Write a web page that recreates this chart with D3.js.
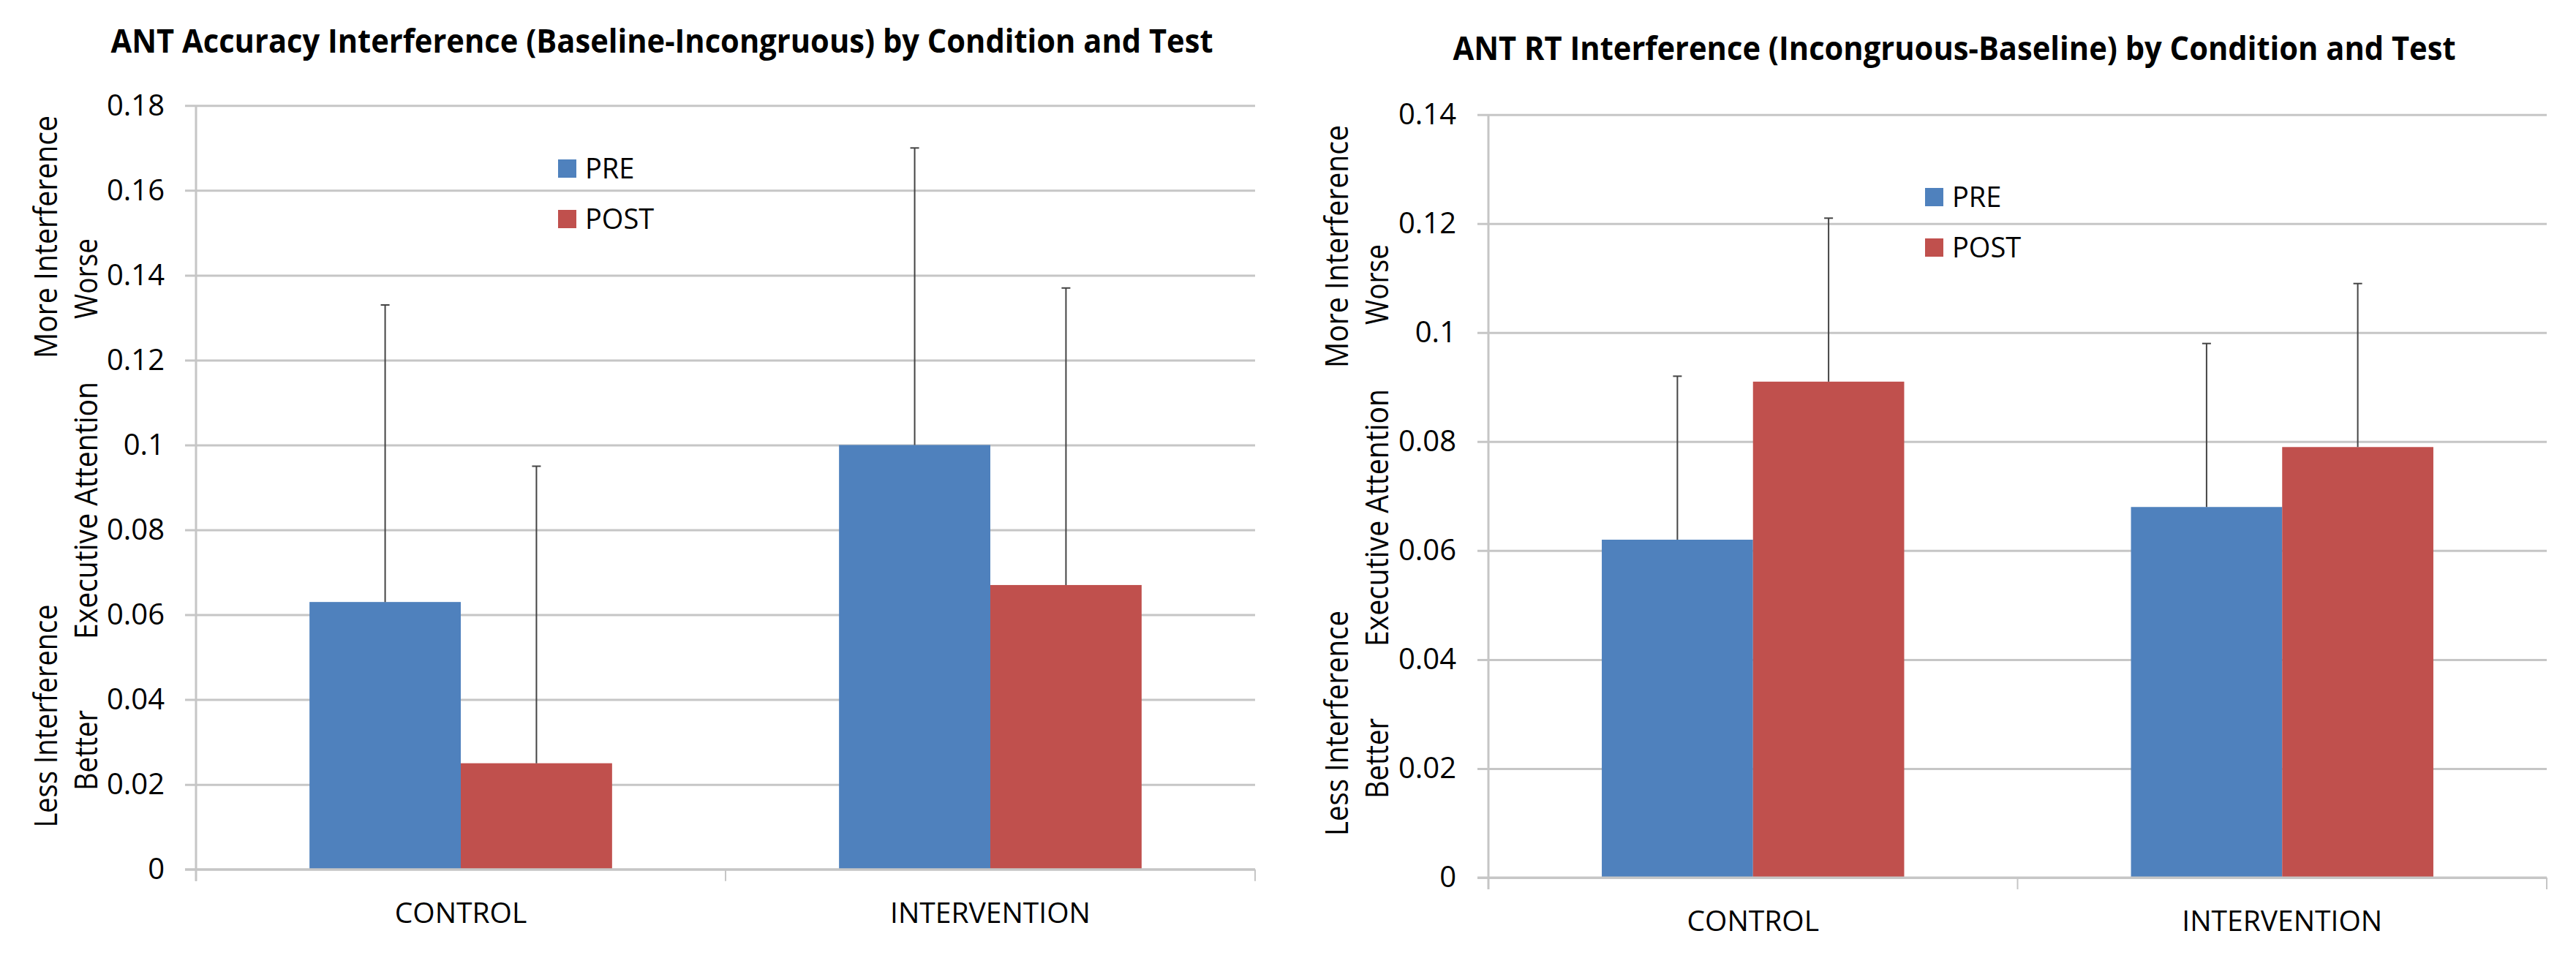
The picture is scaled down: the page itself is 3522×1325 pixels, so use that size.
<!DOCTYPE html>
<html>
<head>
<meta charset="utf-8">
<script src="https://cdn.jsdelivr.net/npm/d3@7"></script>
<style>
  body { margin: 0; background: #fff; }
  text { font-family: "Open Sans", sans-serif; fill: #000; }
</style>
</head>
<body>
<script>
// categories and series
const categories = ["CONTROL", "INTERVENTION"];
const seriesNames = ["PRE", "POST"];
const seriesColors = ["#4f81bd", "#c0504d"];

// accuracy interference (left chart)
const accPre = [0.063, 0.100];
const accPost = [0.025, 0.067];
const accPreErr = [0.070, 0.070];
const accPostErr = [0.070, 0.070];
const accTicks = [0, 0.02, 0.04, 0.06, 0.08, 0.1, 0.12, 0.14, 0.16, 0.18];

// RT interference (right chart)
const rtPre = [0.062, 0.068];
const rtPost = [0.091, 0.079];
const rtPreErr = [0.030, 0.030];
const rtPostErr = [0.030, 0.030];
const rtTicks = [0, 0.02, 0.04, 0.06, 0.08, 0.1, 0.12, 0.14];

// axis title pieces (two rotated lines)
const yTitleLine1 = ["Less Interference", "More Interference"];
const yTitleLine2 = ["Better", "Executive Attention", "Worse"];

const width = 3522;
const height = 1325;

const svg = d3.select("body")
  .append("svg")
  .attr("width", width)
  .attr("height", height);

const fmt = d3.format("~g");

function drawChart(c) {
  const g = svg.append("g");

  const y = d3.scaleLinear()
    .domain([0, c.max])
    .range([c.yBase, c.yTop]);

  const x = d3.scaleBand()
    .domain(categories)
    .range([c.x0, c.x1]);

  const xs = d3.scaleBand()
    .domain(seriesNames)
    .range([0, x.bandwidth()])
    .paddingOuter(0.75);

  // title
  g.append("text")
    .attr("x", c.titleX)
    .attr("y", c.titleY)
    .attr("text-anchor", "middle")
    .attr("font-size", 44)
    .attr("font-weight", "bold")
    .attr("textLength", c.titleLen)
    .attr("lengthAdjust", "spacingAndGlyphs")
    .text(c.title);

  // y axis + gridlines
  const yAxis = g.append("g")
    .attr("transform", `translate(${c.x0},0)`)
    .call(d3.axisLeft(y).tickValues(c.ticks).tickFormat(fmt));
  yAxis.select(".domain").remove();
  yAxis.selectAll(".tick line")
    .attr("x1", -15)
    .attr("x2", c.x1 - c.x0)
    .attr("stroke", "#c6c6c6")
    .attr("stroke-width", 3);
  yAxis.selectAll(".tick text")
    .attr("x", -(c.x0 - c.tickRight))
    .attr("font-size", 40)
    .attr("font-family", "Open Sans")
    .attr("fill", "#111");

  // vertical axis line
  g.append("line")
    .attr("x1", c.x0).attr("x2", c.x0)
    .attr("y1", c.yTop).attr("y2", c.yBase + 16)
    .attr("stroke", "#c6c6c6")
    .attr("stroke-width", 3);

  // category boundary ticks
  const bounds = [c.x0, c.x0 + x.bandwidth(), c.x1];
  g.selectAll(".xtick")
    .data(bounds)
    .enter()
    .append("line")
    .attr("x1", d => d).attr("x2", d => d)
    .attr("y1", c.yBase).attr("y2", c.yBase + 16)
    .attr("stroke", "#c6c6c6")
    .attr("stroke-width", 2);

  // bars
  const rows = [];
  categories.forEach((cat, i) => {
    rows.push({ cat, s: 0, v: c.pre[i], e: c.preErr[i] });
    rows.push({ cat, s: 1, v: c.post[i], e: c.postErr[i] });
  });

  g.selectAll(".bar")
    .data(rows)
    .enter()
    .append("rect")
    .attr("x", d => x(d.cat) + xs(seriesNames[d.s]))
    .attr("y", d => y(d.v))
    .attr("width", xs.bandwidth())
    .attr("height", d => y(0) - y(d.v))
    .attr("fill", d => seriesColors[d.s]);

  // baseline on top of bars
  g.append("line")
    .attr("x1", c.x0 - 15).attr("x2", c.x1)
    .attr("y1", y(0)).attr("y2", y(0))
    .attr("stroke", "#c6c6c6")
    .attr("stroke-width", 3);

  // error bars (plus only)
  const cx = d => x(d.cat) + xs(seriesNames[d.s]) + xs.bandwidth() / 2;
  g.selectAll(".err")
    .data(rows)
    .enter()
    .append("line")
    .attr("x1", cx).attr("x2", cx)
    .attr("y1", d => y(d.v))
    .attr("y2", d => y(d.v + d.e))
    .attr("stroke", "#444")
    .attr("stroke-width", 2);
  g.selectAll(".cap")
    .data(rows)
    .enter()
    .append("line")
    .attr("x1", d => cx(d) - 6).attr("x2", d => cx(d) + 6)
    .attr("y1", d => y(d.v + d.e))
    .attr("y2", d => y(d.v + d.e))
    .attr("stroke", "#444")
    .attr("stroke-width", 2);

  // category labels
  const xAxis = g.append("g")
    .attr("transform", `translate(0,${c.yBase})`)
    .call(d3.axisBottom(x).tickSize(0).tickPadding(c.labelPad));
  xAxis.select(".domain").remove();
  xAxis.selectAll(".tick text")
    .attr("font-size", 39)
    .attr("font-family", "Open Sans")
    .attr("fill", "#111");

  // legend
  const leg = g.selectAll(".leg")
    .data(seriesNames)
    .enter()
    .append("g")
    .attr("transform", (d, i) => `translate(${c.legendX},${c.legendY + i * 69})`);
  leg.append("rect")
    .attr("width", 25).attr("height", 25)
    .attr("fill", (d, i) => seriesColors[i]);
  leg.append("text")
    .attr("x", 37)
    .attr("y", 26)
    .attr("font-size", 38)
    .attr("fill", "#111")
    .text(d => d);

  // rotated axis titles
  const yl = [
    { t: yTitleLine1[0], bx: c.line1X, cy: c.lessY, len: c.lessLen },
    { t: yTitleLine1[1], bx: c.line1X, cy: c.moreY, len: c.moreLen },
    { t: yTitleLine2[0], bx: c.line2X, cy: c.betterY, len: 110 },
    { t: yTitleLine2[1], bx: c.line2X, cy: c.execY, len: 352 },
    { t: yTitleLine2[2], bx: c.line2X, cy: c.worseY, len: 110 }
  ];
  g.selectAll(".ylab")
    .data(yl)
    .enter()
    .append("text")
    .attr("transform", d => `translate(${d.bx},${d.cy}) rotate(-90)`)
    .attr("text-anchor", "middle")
    .attr("font-size", 43)
    .attr("fill", "#111")
    .attr("textLength", d => d.len)
    .attr("lengthAdjust", "spacingAndGlyphs")
    .text(d => d.t);
}

drawChart({
  title: "ANT Accuracy Interference (Baseline-Incongruous) by Condition and Test",
  titleX: 905, titleY: 72, titleLen: 1507,
  x0: 268, x1: 1716, yTop: 144.3, yBase: 1188.7, max: 0.18, ticks: accTicks,
  tickRight: 225,
  pre: accPre, post: accPost, preErr: accPreErr, postErr: accPostErr,
  labelPad: 46,
  legendX: 763, legendY: 218,
  line1X: 78, line2X: 133,
  lessY: 979, lessLen: 305, moreY: 324, moreLen: 332,
  betterY: 1026, execY: 698, worseY: 381
});

drawChart({
  title: "ANT RT Interference (Incongruous-Baseline) by Condition and Test",
  titleX: 2672, titleY: 82, titleLen: 1371,
  x0: 2035, x1: 3482, yTop: 156.7, yBase: 1200, max: 0.14, ticks: rtTicks,
  tickRight: 1991,
  pre: rtPre, post: rtPost, preErr: rtPreErr, postErr: rtPostErr,
  labelPad: 45,
  legendX: 2632, legendY: 257,
  line1X: 1843, line2X: 1898,
  lessY: 989, lessLen: 308, moreY: 337, moreLen: 332,
  betterY: 1037, execY: 708, worseY: 389
});
</script>
</body>
</html>
